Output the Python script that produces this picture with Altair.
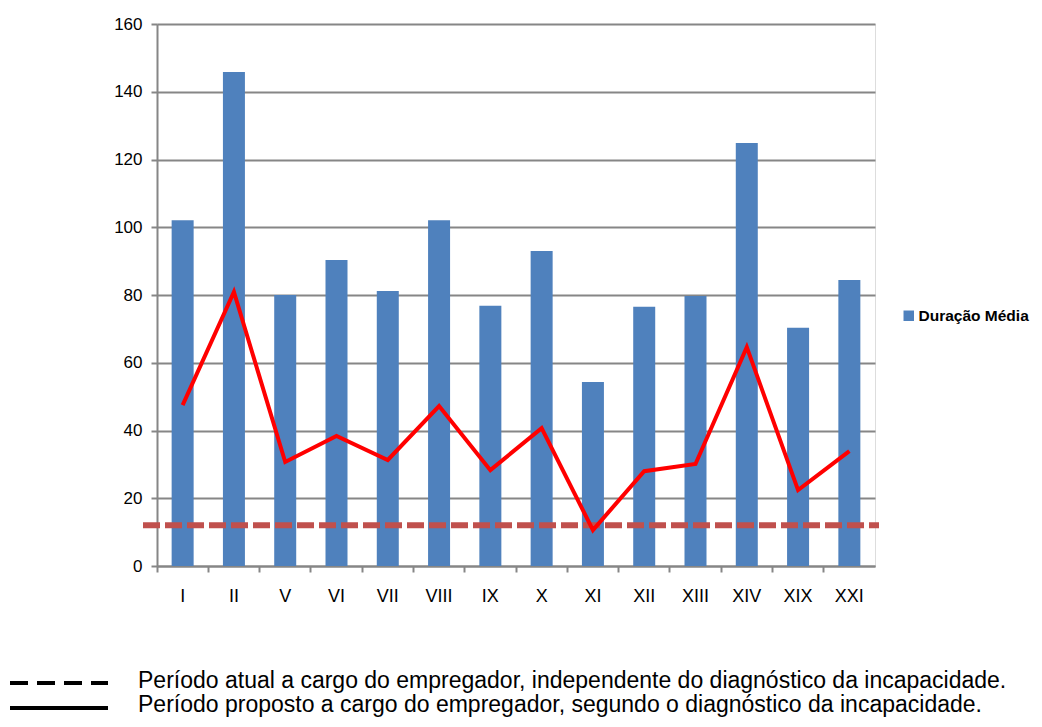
import altair as alt
import pandas as pd

categories = ["I", "II", "V", "VI", "VII", "VIII", "IX", "X", "XI", "XII", "XIII", "XIV", "XIX", "XXI"]
duracao_media = [102.1, 145.8, 80.0, 90.3, 81.2, 102.1, 76.8, 93.0, 54.3, 76.5, 79.7, 124.9, 70.3, 84.4]
periodo_proposto = [47.5, 80.9, 30.7, 38.4, 31.3, 47.2, 28.3, 40.7, 10.6, 28.0, 30.1, 64.6, 22.4, 33.9]
periodo_atual = 12
serie_nome = "Duração Média"
nota_atual = "Período atual a cargo do empregador, independente do diagnóstico da incapacidade."
nota_proposto = "Período proposto a cargo do empregador, segundo o diagnóstico da incapacidade."

W, H = 718, 542
FONT = "Liberation Sans"

df = pd.DataFrame({
    "cat": categories,
    "dur": duracao_media,
    "prop": periodo_proposto,
    "serie": [serie_nome] * len(categories),
})

xenc = alt.X("cat:N", sort=categories, title=None,
             scale=alt.Scale(paddingInner=0, paddingOuter=0),
             axis=alt.Axis(labelAngle=0, labelFont=FONT, labelFontSize=18, labelColor="black",
                           labelPadding=15, tickSize=6, tickWidth=2, tickColor="#868686",
                           domainColor="#868686", domainWidth=2, bandPosition=0,
                           grid=False))

yscale = alt.Scale(domain=[0, 160], nice=False)

bars = alt.Chart(df).mark_bar(size=22).encode(
    x=xenc,
    y=alt.Y("dur:Q", scale=yscale, title=None,
            axis=alt.Axis(values=list(range(0, 161, 20)), labelFont=FONT, labelFontSize=17,
                          labelColor="black", labelPadding=9, tickSize=6, tickWidth=2,
                          tickColor="#868686", domainColor="#868686", domainWidth=2,
                          grid=True, gridColor="#868686", gridWidth=2)),
    color=alt.Color("serie:N", scale=alt.Scale(range=["#4F81BD"]),
                    legend=alt.Legend(title=None, orient="none", legendX=744, legendY=284,
                                      symbolType="square", symbolSize=110, symbolStrokeWidth=0,
                                      labelFont=FONT, labelFontSize=15.5, labelFontWeight="bold",
                                      labelColor="black", labelOffset=2)),
)

line = alt.Chart(df).mark_line(color="#FF0000", strokeWidth=4).encode(
    x=alt.X("cat:N", sort=categories),
    y=alt.Y("prop:Q", scale=yscale),
)

dash_rule = alt.Chart(pd.DataFrame({"v": [periodo_atual]})).mark_rule(
    color="#C0504D", strokeWidth=6, strokeDash=[17, 5], clip=False
).encode(y="v:Q", x=alt.value(-14), x2=alt.value(W + 4))

leg_dash = alt.Chart(pd.DataFrame({"k": [0]})).mark_rule(
    color="black", strokeWidth=4, strokeDash=[18, 9], clip=False
).encode(x=alt.value(-147), x2=alt.value(-49), y=alt.value(659))

leg_solid = alt.Chart(pd.DataFrame({"k": [0]})).mark_rule(
    color="black", strokeWidth=4, clip=False
).encode(x=alt.value(-147), x2=alt.value(-49), y=alt.value(684))

txt1 = alt.Chart(pd.DataFrame({"t": [nota_atual]})).mark_text(
    align="left", baseline="middle", font=FONT, fontSize=23, color="black", clip=False
).encode(text="t:N", x=alt.value(-19), y=alt.value(657))

txt2 = alt.Chart(pd.DataFrame({"t": [nota_proposto]})).mark_text(
    align="left", baseline="middle", font=FONT, fontSize=23, color="black", clip=False
).encode(text="t:N", x=alt.value(-19), y=alt.value(681))

chart = alt.layer(bars, dash_rule, line, leg_dash, leg_solid, txt1, txt2).properties(
    width=W, height=H,
    autosize=alt.AutoSizeParams(type="none"),
    padding={"left": 149, "top": 16, "right": 159, "bottom": 153},
).configure_view(stroke=None).configure(background="white")

chart.save("out.html", embed_options={"renderer": "svg", "actions": False})
